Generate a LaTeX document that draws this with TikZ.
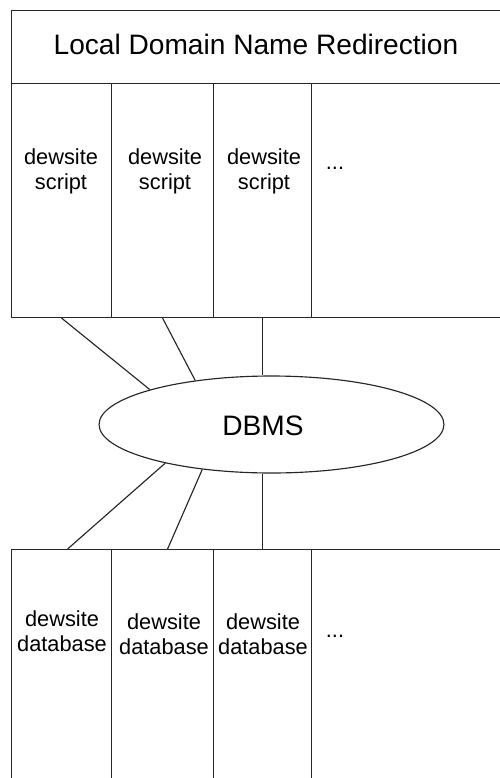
\documentclass[tikz,border=0pt]{standalone}
\usepackage{fontspec}
\setmainfont{Liberation Sans}
\usetikzlibrary{shapes.geometric}
\begin{document}
\begin{tikzpicture}[x=0.02cm,y=-0.02cm,line width=0.65pt,color=black!85,
    box/.style={draw,rectangle,inner sep=0pt,anchor=north west},
    lbl/.style={align=center,inner sep=0pt,text=black,font=\fontsize{12.4}{14.2}\selectfont},
    big/.style={inner sep=0pt,text=black,font=\fontsize{16}{19}\selectfont}]
  \useasboundingbox (0,0) rectangle (500,778);
  \clip (0,0) rectangle (500,778);
  \node[box,minimum width=10.4cm,minimum height=1.46cm] (title) at (11,10) {};
  \node[big] (titletext) at (256,44) {Local Domain Name Redirection};
  \foreach \n/\xl/\w in {1/11/100,2/111/102,3/213/98,4/311/209}{
    \node[box,minimum width={\w*0.02cm},minimum height=4.68cm] (s\n) at (\xl,83) {};
    \node[box,minimum width={\w*0.02cm},minimum height=5.2cm] (d\n) at (\xl,549) {};
  }
  \node[lbl] (st1) at (61,171) {dewsite\\script};
  \node[lbl] (st2) at (165,171) {dewsite\\script};
  \node[lbl] (st3) at (264,171) {dewsite\\script};
  \node[lbl] (st4) at (335,168) {...};
  \node[lbl] (dt1) at (62,631) {dewsite\\database};
  \node[lbl] (dt2) at (164,634) {dewsite\\database};
  \node[lbl] (dt3) at (263,634) {dewsite\\database};
  \node[lbl] (dt4) at (335,636) {...};
  \node[draw,ellipse,inner sep=0pt,minimum width=6.9cm,minimum height=1.94cm] (dbms) at (271.5,424.5) {};
  \node[big] (dbmstext) at (263,426) {DBMS};
  \draw (s1.south) -- (dbms.164);
  \draw (s2.south) -- (dbms.150);
  \draw (s3.south) -- (s3.south |- dbms.north);
  \draw (dbms.200) -- ([xshift=0.12cm]d1.north);
  \draw (dbms.213) -- ([xshift=0.1cm]d2.north);
  \draw (dbms.south -| d3.north) -- (d3.north);
\end{tikzpicture}
\end{document}
